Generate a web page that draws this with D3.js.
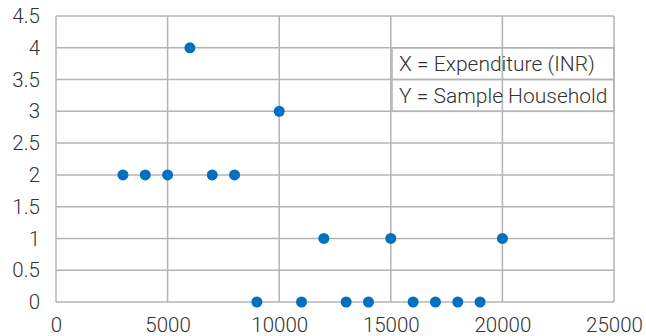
<!DOCTYPE html>
<html><head><meta charset="utf-8">
<script src="https://cdn.jsdelivr.net/npm/d3@7"></script>
<style>html,body{margin:0;padding:0;background:#fff;}svg{display:block;}</style>
</head><body>
<script>
const expenditure = [3000,4000,5000,6000,7000,8000,9000,10000,11000,12000,13000,14000,15000,16000,17000,18000,19000,20000];
const households  = [2,2,2,4,2,2,0,3,0,1,0,0,1,0,0,0,0,1];
const xTicks = [0,5000,10000,15000,20000,25000];
const yTicks = [0,0.5,1,1.5,2,2.5,3,3.5,4,4.5];
const legendLines = ["X = Expenditure (INR)","Y = Sample Household"];

const W=646,H=336;
const m={l:56,r:32,t:16,b:34};
const svg=d3.select("body").append("svg").attr("width",W).attr("height",H);
const x=d3.scaleLinear().domain([0,25000]).range([m.l,W-m.r]);
const y=d3.scaleLinear().domain([0,4.5]).range([H-m.b,m.t]);
const font="Roboto";
const gridC="#b4b4b4";

// grid
svg.append("g").selectAll("line").data(yTicks).join("line")
  .attr("x1",x(0)).attr("x2",x(25000)).attr("y1",d=>y(d)).attr("y2",d=>y(d))
  .attr("stroke",gridC).attr("stroke-width",1.5);
svg.append("g").selectAll("line").data(xTicks).join("line")
  .attr("y1",y(0)).attr("y2",y(4.5)).attr("x1",d=>x(d)).attr("x2",d=>x(d))
  .attr("stroke",gridC).attr("stroke-width",1.5);

// axes labels
const yAxis=d3.axisLeft(y).tickValues(yTicks).tickSize(0).tickPadding(16).tickFormat(d=>String(d));
const gy=svg.append("g").attr("transform",`translate(${x(0)},0)`).call(yAxis);
gy.select(".domain").remove();
gy.selectAll("text").attr("font-family",font).attr("font-weight",300).attr("font-size",20.5).attr("fill","#333");
const xAxis=d3.axisBottom(x).tickValues(xTicks).tickSize(0).tickPadding(15).tickFormat(d=>String(d));
const gx=svg.append("g").attr("transform",`translate(0,${y(0)})`).call(xAxis);
gx.select(".domain").remove();
gx.selectAll("text").attr("font-family",font).attr("font-weight",300).attr("font-size",20.5).attr("fill","#333");

// legend box
const lx=392, lw=x(25000)-392;
svg.append("rect").attr("x",lx).attr("y",y(4)).attr("width",lw).attr("height",y(3)-y(4))
  .attr("fill","none").attr("stroke",gridC).attr("stroke-width",1.5);
svg.append("line").attr("x1",lx).attr("x2",lx+lw).attr("y1",y(3.5)).attr("y2",y(3.5)).attr("stroke",gridC).attr("stroke-width",1.5);
svg.append("g").selectAll("text").data(legendLines).join("text")
  .attr("x",lx+7).attr("y",(d,i)=>y(4-0.25-0.5*i)).attr("dy","0.35em")
  .attr("font-family",font).attr("font-weight",300).attr("font-size",21).attr("fill","#333")
  .text(d=>d);

// points
svg.append("g").selectAll("circle").data(expenditure).join("circle")
  .attr("cx",d=>x(d)).attr("cy",(d,i)=>y(households[i])).attr("r",5.5).attr("fill","#0070c0");
</script>
</body></html>
